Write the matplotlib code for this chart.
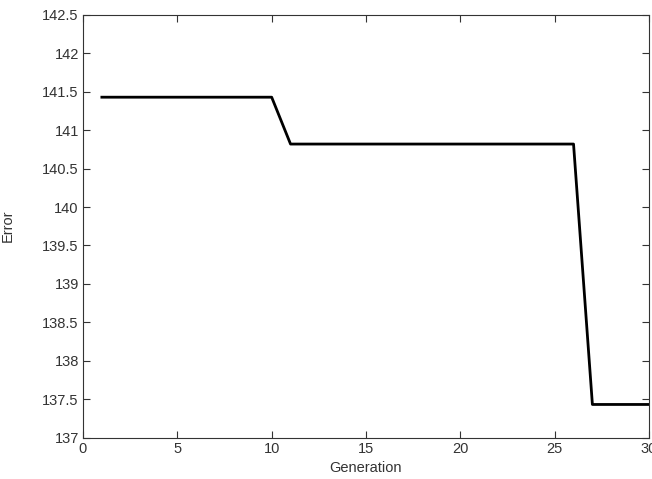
import matplotlib
matplotlib.use("Agg")
import matplotlib.pyplot as plt

generations = list(range(1, 31))
error = [141.43] * 10 + [140.82] * 16 + [137.43] * 4

plt.rcParams['font.family'] = ['Liberation Sans', 'DejaVu Sans']
fig = plt.figure(figsize=(6.52, 4.79), dpi=100)
ax = fig.add_axes([83/652, 1 - 437.5/479, (649-83)/652, (437.5-15)/479])
ax.plot(generations, error, color='black', linewidth=2)
ax.set_xlim(0, 30)
ax.set_ylim(137, 142.5)
ax.set_xticks([0, 5, 10, 15, 20, 25, 30])
ax.set_yticks([137, 137.5, 138, 138.5, 139, 139.5, 140, 140.5, 141, 141.5, 142, 142.5])
ax.set_yticklabels(['137', '137.5', '138', '138.5', '139', '139.5', '140', '140.5', '141', '141.5', '142', '142.5'])
ax.tick_params(direction='in', top=True, right=True, length=5, width=0.8,
               labelsize=10.5, colors='#333333', labelcolor='#333333', pad=3)
for s in ax.spines.values():
    s.set_color('#333333')
    s.set_linewidth(0.8)
ax.set_xlabel('Generation', fontsize=10.5, color='#333333', labelpad=4)
ax.set_ylabel('Error', fontsize=10.5, color='#333333', labelpad=20)
fig.savefig('out.png', dpi=100)
